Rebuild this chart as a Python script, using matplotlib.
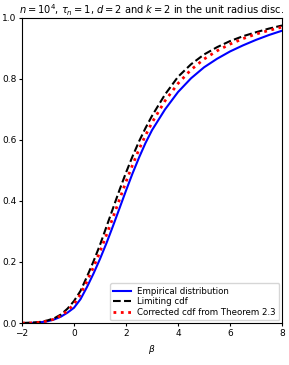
import numpy as np
import matplotlib
matplotlib.use('Agg')
import matplotlib.pyplot as plt

# values
beta = [-2, -1.75, -1.5, -1.25, -1, -0.75, -0.5, -0.25, 0, 0.25, 0.5, 0.75, 1, 1.25,
        1.5, 1.75, 2, 2.25, 2.5, 2.75, 3, 3.5, 4, 4.5, 5, 5.5, 6, 6.5, 7, 7.5, 8]
empirical = [0.0, 0.0, 0.001, 0.003, 0.006, 0.012, 0.021, 0.034, 0.05, 0.078, 0.118, 0.162,
             0.21, 0.262, 0.318, 0.376, 0.434, 0.49, 0.542, 0.59, 0.632, 0.70, 0.757,
             0.802, 0.838, 0.866, 0.89, 0.91, 0.928, 0.944, 0.958]
limiting = [0.0, 0.001, 0.002, 0.004, 0.009, 0.016, 0.028, 0.047, 0.072, 0.105, 0.152, 0.202,
            0.256, 0.316, 0.376, 0.436, 0.493, 0.546, 0.595, 0.639, 0.679, 0.749, 0.807,
            0.848, 0.88, 0.904, 0.924, 0.94, 0.953, 0.965, 0.975]
corrected = [0.0, 0.0, 0.001, 0.003, 0.007, 0.013, 0.024, 0.04, 0.062, 0.094, 0.137, 0.183,
             0.234, 0.289, 0.346, 0.405, 0.463, 0.518, 0.569, 0.615, 0.657, 0.728, 0.785,
             0.83, 0.865, 0.892, 0.914, 0.932, 0.947, 0.959, 0.97]

fig = plt.figure(figsize=(2.89, 3.65), dpi=100)
ax = fig.add_axes([0.076, 0.115, 0.9, 0.836])
ax.plot(beta, empirical, color='blue', lw=1.5, label='Empirical distribution')
ax.plot(beta, limiting, color='black', lw=1.5, ls='--', label='Limiting cdf')
ax.plot(beta, corrected, color='red', lw=2, ls=':', label='Corrected cdf from Theorem 2.3')
ax.set_xlim(-2, 8)
ax.set_ylim(0, 1)
ax.set_xticks([-2, 0, 2, 4, 6, 8])
ax.set_yticks([0, 0.2, 0.4, 0.6, 0.8, 1.0])
ax.tick_params(labelsize=6.5, length=2.5, pad=1.5)
ax.set_xlabel(r'$\beta$', fontsize=6.5)
ax.set_title(r'$n = 10^4$, $\tau_n = 1$, $d = 2$ and $k = 2$ in the unit radius disc.', fontsize=7.15, pad=3)
ax.legend(loc='lower right', fontsize=6.2, handlelength=2, borderaxespad=0.3, labelspacing=0.2)
fig.savefig('out.png', dpi=100)
